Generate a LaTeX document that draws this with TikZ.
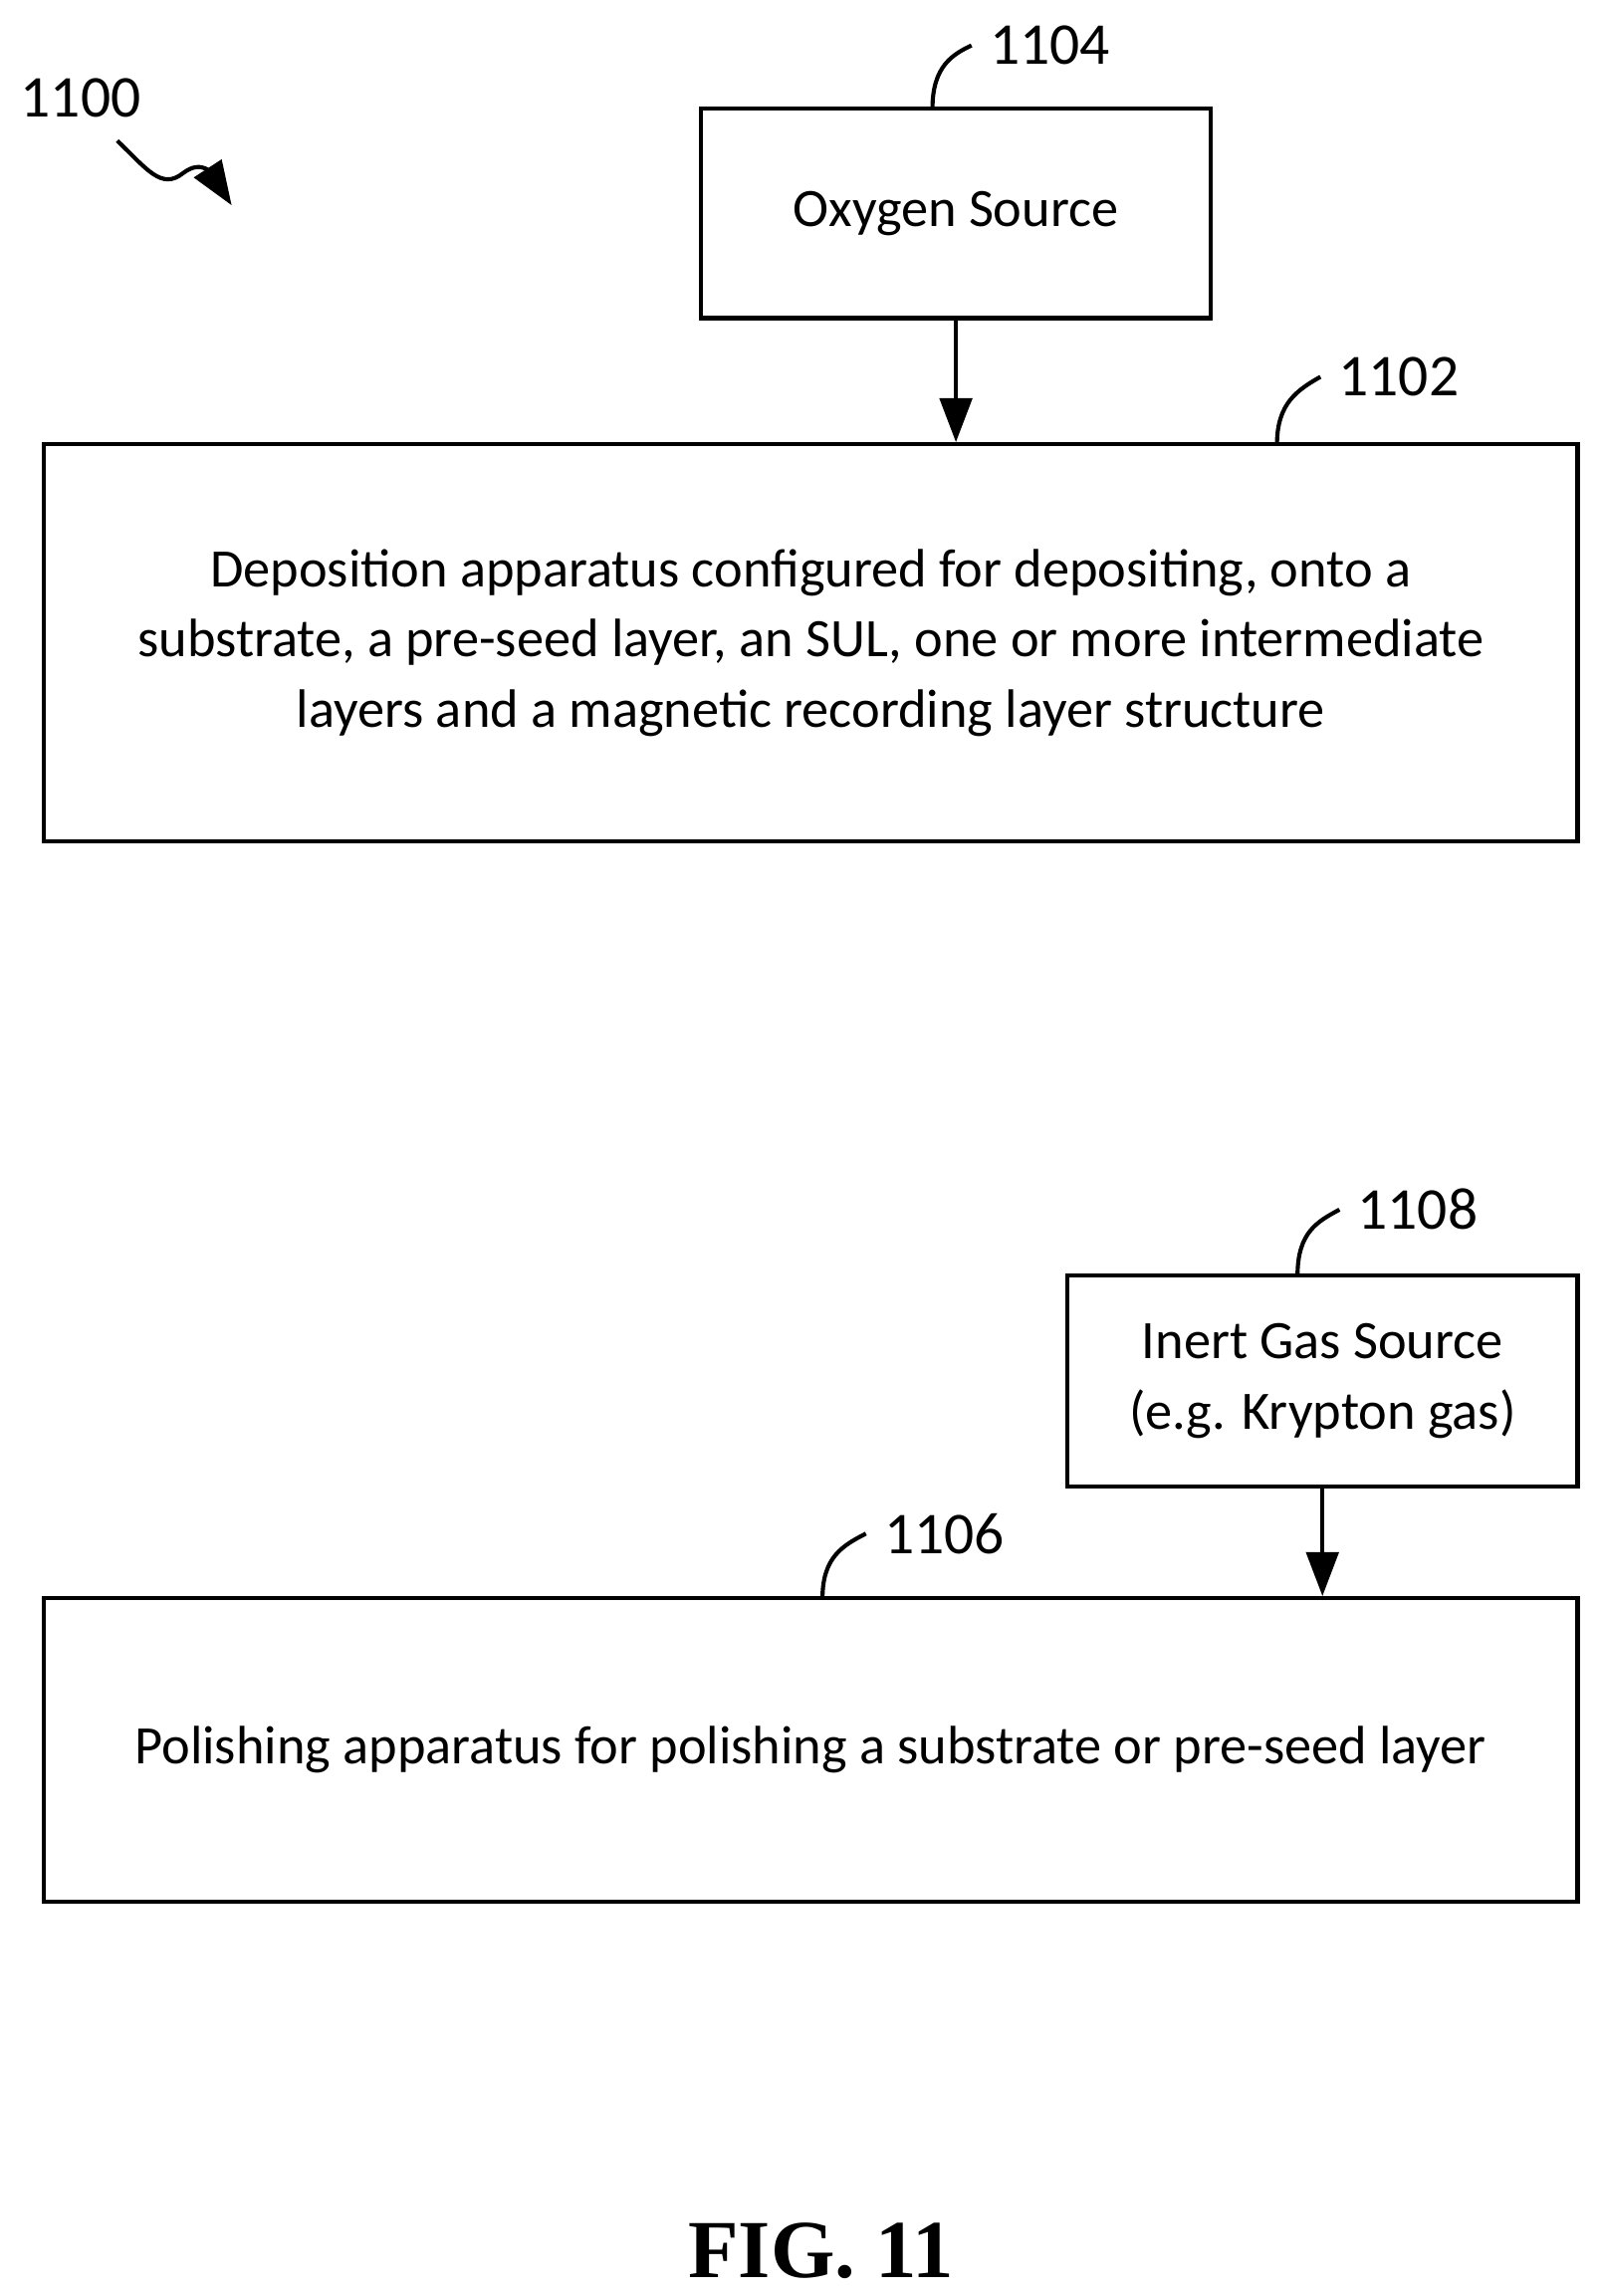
\documentclass[tikz,border=0pt]{standalone}
\usepackage{fontspec}
\setmainfont{Carlito}
\newfontfamily\figfont{Liberation Serif}
\usetikzlibrary{arrows.meta}
\begin{document}
\begin{tikzpicture}[%
    x=0.1mm,
    y=-0.1mm,
    box/.style={
      rectangle,
      draw,
      thick,
      align=center,
      inner sep=0pt,
      font=\fontsize{10.5}{13.6}\selectfont
    },
    refnum/.style={
      font=\fontsize{11.5}{13}\selectfont
    },
    leader/.style={
      thick
    },
    flow/.style={
      -{Triangle[length=3mm,width=2.2mm]},
      thick
    }
  ]
    \useasboundingbox (0,0) rectangle (1090,1566);
    % boxes
    \node[box,minimum width=348\pgflinewidth*0+34.8mm,minimum height=14.3mm] (oxygen) at (652,145.5) {Oxygen Source};
    \node[box,minimum width=104.6mm,minimum height=27.1mm] (deposit) at (553,438.5) {Deposition apparatus configured for depositing, onto a\\substrate, a pre-seed layer, an SUL, one or more intermediate\\layers and a magnetic recording layer structure};
    \node[box,minimum width=34.8mm,minimum height=14.4mm] (inert) at (902,942) {Inert Gas Source\\(e.g. Krypton gas)};
    \node[box,minimum width=104.6mm,minimum height=20.7mm] (polish) at (553,1193.5) {Polishing apparatus for polishing a substrate or pre-seed layer};
    % arrows
    \draw[flow] (oxygen) -- (oxygen |- deposit.north);
    \draw[flow] (inert) -- (inert |- polish.north);
    % reference numerals
    \node[refnum] (n1100) at (55,67) {1100};
    \node[refnum] (n1104) at (716,31) {1104};
    \node[refnum] (n1102) at (954,257) {1102};
    \node[refnum] (n1108) at (967,825) {1108};
    \node[refnum] (n1106) at (644,1046) {1106};
    \coordinate (c1104) at (636,74);
    \coordinate (c1102) at (871,303);
    \coordinate (c1108) at (885,870);
    \coordinate (c1106) at (561,1090);
    \draw[leader] (c1104) .. controls (636,45) and (650,37) .. (n1104.west);
    \draw[leader] (c1102) .. controls (871,275) and (885,266) .. (n1102.west);
    \draw[leader] (c1108) .. controls (885,840) and (899,833) .. (n1108.west);
    \draw[leader] (c1106) .. controls (561,1062) and (575,1054) .. (n1106.west);
    \coordinate (t1100) at (158,140);
    \draw[thick,-{Triangle[length=3mm,width=2.2mm]}] (80,96) .. controls (100,115) and (110,130) .. (125,118) .. controls (138,108) and (145,120) .. (t1100);
    % caption
    \node[font=\figfont\bfseries\fontsize{16}{18}\selectfont] (fig) at (560,1535) {FIG. 11};
\end{tikzpicture}
\end{document}
